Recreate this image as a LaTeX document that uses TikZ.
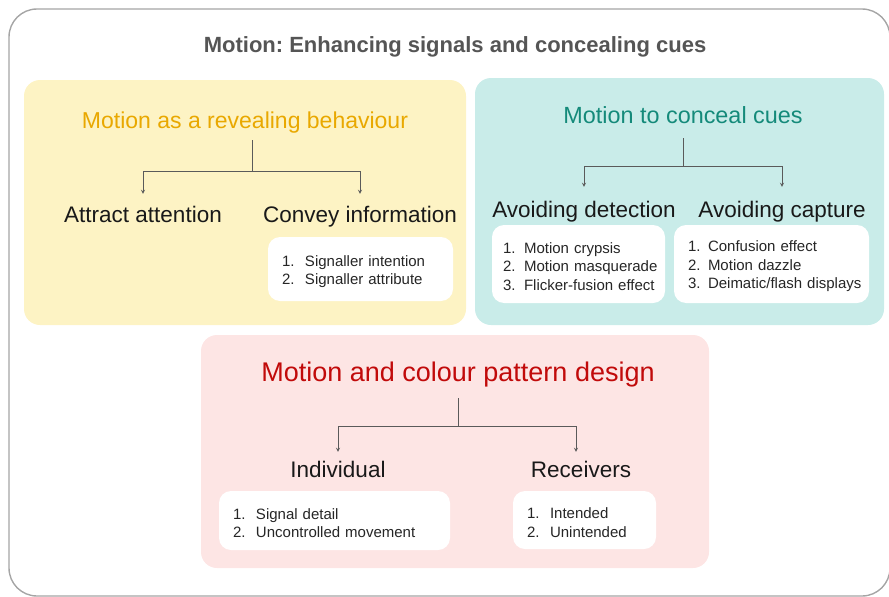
\documentclass[tikz,border=0pt]{standalone}
\usepackage{fontspec}
\setmainfont{Liberation Sans}
\usetikzlibrary{arrows, positioning}
\definecolor{frameGrey}{HTML}{A5A5A5}
\definecolor{headGrey}{HTML}{555555}
\definecolor{lineGrey}{HTML}{5A5A5A}
\definecolor{revealFill}{HTML}{FDF3C4}
\definecolor{concealFill}{HTML}{C9ECE9}
\definecolor{designFill}{HTML}{FDE5E4}
\definecolor{revealText}{HTML}{E9A800}
\definecolor{concealText}{HTML}{148A7A}
\definecolor{designText}{HTML}{C10A0A}
\tikzstyle{panel} = [rounded corners=16pt]
\tikzstyle{heading} = [
    anchor=base, text depth=0pt, inner xsep=0pt, font=\fontsize{23}{27}\selectfont
]
\tikzstyle{branch} = [
    anchor=base, text height=16pt, text depth=0pt, inner xsep=0pt,
    text=black!90, font=\fontsize{22.5}{27}\selectfont
]
\tikzstyle{listbox} = [
    rectangle, rounded corners=12pt, fill=white, align=left, inner xsep=14pt,
    inner ysep=0pt, text=black!85, font=\fontsize{15}{18.5}\selectfont
]
\tikzstyle{link} = [draw=lineGrey, line width=0.8pt]
\tikzstyle{arrow} = [link, ->, >=stealth]
\newcommand{\itemline}[3][23pt]{\mbox{\makebox[#1][l]{#2}#3}}
\newcommand{\toplift}{\rule{0pt}{16pt}}
\frenchspacing

\begin{document}
\begin{tikzpicture}[x=1pt, y=-1pt]

\clip (0,0) rectangle (889,597);
\draw [frameGrey, line width=1.4pt, rounded corners=28pt] (9,9) rectangle (890,596);

\node (mainTitle) [anchor=base, text=headGrey, font=\fontsize{22}{26}\selectfont\bfseries]
    at (455,52) {Motion: Enhancing signals and concealing cues};

% Panel 1 (amarillo)
\fill [panel, revealFill] (24,80) rectangle (466,325);
\node (revTitle) [heading, text=revealText, inner ysep=12pt] at (245,128) {Motion as a revealing behaviour};
\coordinate (revFork) at (252,171);
\node (attract) [branch, inner ysep=12pt] at (143,222) {Attract attention};
\node (convey)  [branch, inner ysep=12pt] at (360,222) {Convey information};
\node (conveyList) [listbox, text width=157pt, minimum height=64pt] at (360.5,269)
    {\toplift\itemline{1.}{Signaller intention}\\ \itemline{2.}{Signaller attribute}};

% Panel 2 (verde)
\fill [panel, concealFill] (475,78) rectangle (884,325);
\node (conTitle) [heading, text=concealText, font=\fontsize{23.4}{27}\selectfont, inner ysep=15pt]
    at (683,123) {Motion to conceal cues};
\coordinate (conFork) at (683,166);
\node (detect)  [branch, inner ysep=14pt] at (584,217) {Avoiding detection};
\node (capture) [branch, inner ysep=14pt] at (782,217) {Avoiding capture};
\node (detectList) [listbox, inner xsep=11pt, text width=151pt, minimum height=78pt] at (578.5,264)
    {\toplift\itemline[21pt]{1.}{Motion crypsis}\\ \itemline[21pt]{2.}{Motion masquerade}\\
     \itemline[21pt]{3.}{Flicker-fusion effect}};
\node (captureList) [listbox, text width=167pt, minimum height=78pt] at (771.5,264)
    {\toplift\itemline[20pt]{1.}{Confusion effect}\\ \itemline[20pt]{2.}{Motion dazzle}\\
     \itemline[20pt]{3.}{Deimatic/flash displays}};

% Panel 3 (rosa)
\fill [panel, designFill] (201,335) rectangle (709,568);
\node (desTitle) [heading, text=designText, font=\fontsize{27}{31}\selectfont, inner ysep=17pt]
    at (458,381) {Motion and colour pattern design};
\coordinate (desFork) at (458,426);
\node (individual) [branch, inner ysep=9pt] at (338,477) {Individual};
\node (receivers)  [branch, inner ysep=9pt] at (581,477) {Receivers};
\node (individualList) [listbox, text width=203pt, minimum height=59pt] at (334.5,520.5)
    {\toplift\itemline{1.}{Signal detail}\\ \itemline{2.}{Uncontrolled movement}};
\node (receiverList) [listbox, text width=115pt, minimum height=58pt] at (584.5,520)
    {\toplift\itemline{1.}{Intended}\\ \itemline{2.}{Unintended}};

% Flechas (arbol)
\draw [link] (revTitle.south -| revFork) -- (revFork);
\draw [arrow] (revFork) -| (attract.north);
\draw [arrow] (revFork) -| (convey.north);
\draw [link] (conTitle.south -| conFork) -- (conFork);
\draw [arrow] (conFork) -| (detect.north);
\draw [arrow] (conFork) -| (capture.north);
\draw [link] (desTitle.south) -- (desFork);
\draw [arrow] (desFork) -| (individual.north);
\draw [arrow] (desFork) -| ([xshift=-5pt]receivers.north);

\end{tikzpicture}
\end{document}
